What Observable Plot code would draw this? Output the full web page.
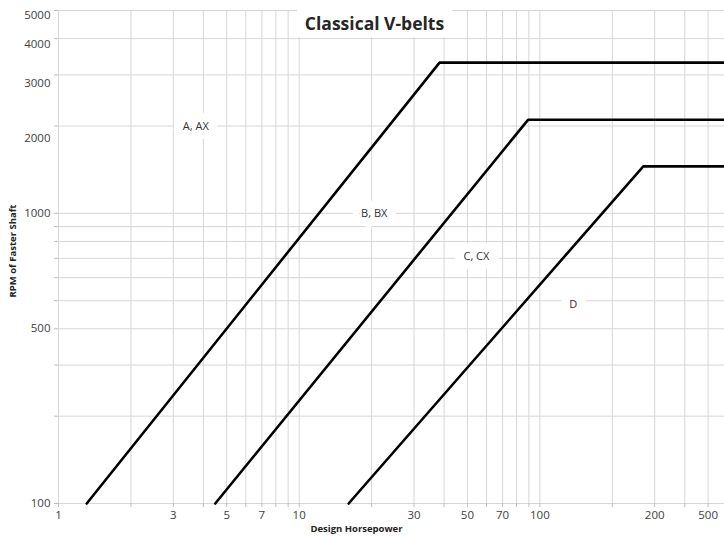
<!DOCTYPE html>
<html><head><meta charset="utf-8">
<script src="https://cdn.jsdelivr.net/npm/d3@7"></script>
<script src="https://cdn.jsdelivr.net/npm/@observablehq/plot@0.6"></script>
<style>
body{margin:0;background:#fff;font-family:"Open Sans",sans-serif;}
#wrap{position:relative;width:724px;height:537px;overflow:hidden;}
#title{position:absolute;left:297px;top:10px;width:155px;height:27px;background:#fff;font-weight:bold;font-size:17.5px;text-align:center;line-height:26px;color:#262626;}
#ylab{position:absolute;left:-47px;top:245px;width:120px;height:12px;line-height:12px;text-align:center;font-weight:bold;font-size:9.5px;color:#222;transform:rotate(-90deg);transform-origin:50% 50%;white-space:nowrap;}
</style></head><body>
<div id="wrap"><div id="chart"></div><div id="title">Classical V-belts</div><div id="ylab">RPM of Faster Shaft</div></div>
<script>
// belt curves (Design Horsepower vs RPM of faster shaft)
const beltSeries = ["A, AX", "B, BX", "D"];
const seriesX = [[1.31, 38.3, 585], [4.48, 89.3, 585], [16.05, 269, 585]];
const seriesY = [[100, 3305, 3305], [100, 2100, 2100], [100, 1452, 1452]];
// region labels
const labelText = ["A, AX", "B, BX", "C, CX", "D"];
const labelX = [3.72, 20.5, 54.5, 137.6];
const labelY = [2000, 1000, 709, 487];
// grid lines
const xGrid = [1,2,3,4,5,6,7,8,9,10,20,30,40,50,60,70,80,90,100,200,300,400,500];
const yGrid = [100,200,300,400,500,600,700,800,900,1000,2000,3000,4000,5000];
// tick labels as they appear
const xTickValues = [1,3,5,7,10,30,50,70,100,300,500];
const xTickLabels = ["1","3","5","7","10","30","50","70","100","200","500"];
const yTickValues = [100,400,1000,1814,2805,3837,4806];
const yTickLabels = ["100","500","1000","2000","3000","4000","5000"];

const rows = [];
beltSeries.forEach((s, i) => seriesX[i].forEach((x, j) => rows.push({series: s, x, y: seriesY[i][j]})));
const labels = labelText.map((t, i) => ({t, x: labelX[i], y: labelY[i]}));
const xTicks = xTickValues.map((v, i) => ({v, t: xTickLabels[i]}));
const yTicks = yTickValues.map((v, i) => ({v, t: yTickLabels[i]}));

const chart = Plot.plot({
  width: 724, height: 537,
  marginLeft: 58, marginRight: 0, marginTop: 10, marginBottom: 34,
  style: {fontFamily: "'Open Sans', sans-serif", fontSize: "11px", color: "#404040", background: "#fff"},
  x: {type: "log", domain: [1, 585]},
  y: {type: "log", domain: [100, 5000]},
  marks: [
    Plot.ruleX(xGrid, {stroke: "#d6d6d6", strokeWidth: 1}),
    Plot.ruleY(yGrid, {stroke: "#d6d6d6", strokeWidth: 1}),
    Plot.axisX(xGrid, {tickSize: 4, tickFormat: () => "", stroke: "#bdbdbd", label: null}),
    Plot.axisY(yGrid, {tickSize: 4, tickFormat: () => "", stroke: "#bdbdbd", label: null}),
    Plot.text(xTicks, {x: "v", text: "t", frameAnchor: "bottom", textAnchor: "middle", dy: 15, fill: "#404040", fontSize: 11.5}),
    Plot.text(yTicks, {y: "v", text: "t", frameAnchor: "left", textAnchor: "end", dx: -8, fill: "#404040", fontSize: 11.5}),
    Plot.text(labels, {x: "x", y: "y", text: "t", fill: "#333", stroke: "white", strokeWidth: 18, strokeLinejoin: "round", fontSize: 11}),
    Plot.line(rows, {x: "x", y: "y", z: "series", stroke: "black", strokeWidth: 2.6}),
    Plot.text(["Design Horsepower"], {frameAnchor: "bottom", textAnchor: "middle", dx: -35, dy: 28, fontWeight: "bold", fontSize: 9.5, fill: "#222"})
  ]
});
document.getElementById("chart").appendChild(chart);
</script>
</body></html>
